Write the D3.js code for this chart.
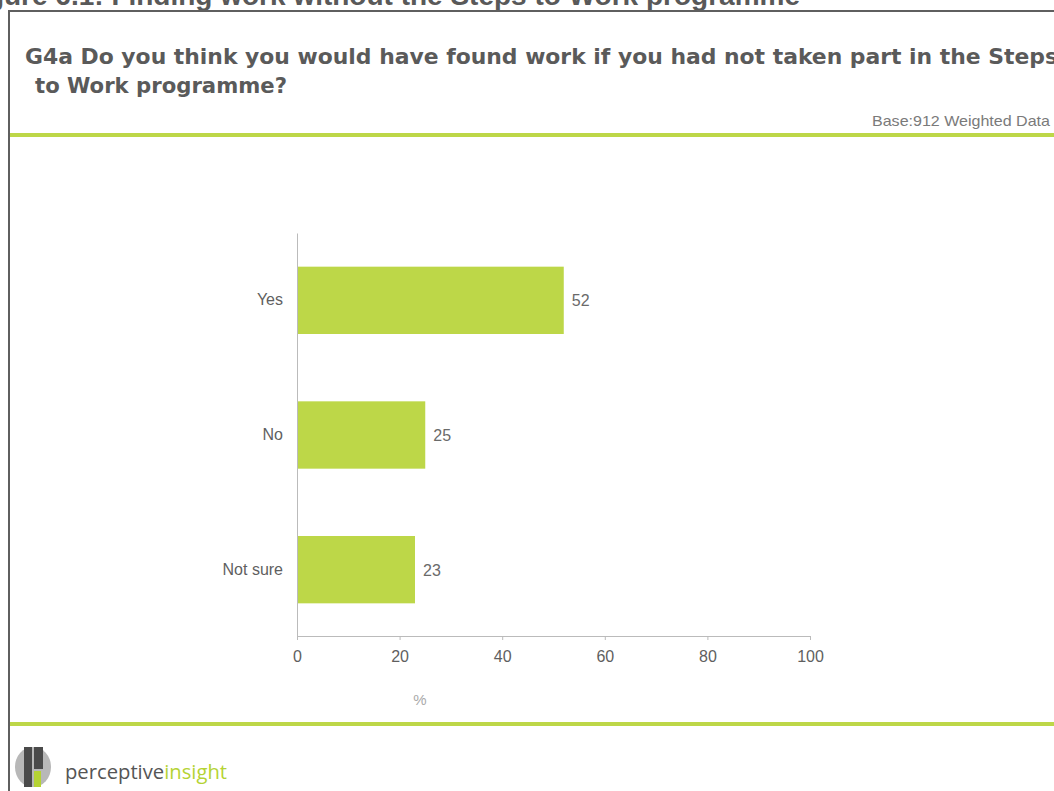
<!DOCTYPE html>
<html>
<head>
<meta charset="utf-8">
<script src="https://cdn.jsdelivr.net/npm/d3@7"></script>
<style>
  html, body { margin: 0; padding: 0; background: #fff; overflow: hidden; }
  svg { display: block; }
</style>
</head>
<body>
<script>
const categories = ["Yes", "No", "Not sure"];
const values = [52, 25, 23];
const xTicks = [0, 20, 40, 60, 80, 100];
const figureTitle = "Figure 6.1: Finding work without the Steps to Work programme";
const questionLines = ["G4a Do you think you would have found work if you had not taken part in the Steps", "to Work programme?"];
const baseText = "Base:912 Weighted Data";
const axisTitle = "%";

const W = 1054, H = 791;
const green = "#bdd748";
const svg = d3.select("body").append("svg").attr("width", W).attr("height", H);

// clipped figure heading
svg.append("text").attr("x", 800).attr("y", 5)
  .attr("text-anchor", "end")
  .attr("font-family", "Liberation Sans, Arial, sans-serif")
  .attr("font-weight", "bold").attr("font-size", 28)
  .attr("fill", "#595959").text(figureTitle);

// frame
svg.append("line").attr("x1", 9).attr("x2", W).attr("y1", 11).attr("y2", 11)
  .attr("stroke", "#5f5f5f").attr("stroke-width", 2);
svg.append("line").attr("x1", 9).attr("x2", 9).attr("y1", 10).attr("y2", H)
  .attr("stroke", "#5f5f5f").attr("stroke-width", 2);

// question
const qFont = "DejaVu Sans Condensed, DejaVu Sans, sans-serif";
svg.append("text").attr("x", 25).attr("y", 64)
  .attr("font-family", qFont).attr("font-stretch", "condensed")
  .attr("font-weight", "bold").attr("font-size", 22)
  .attr("textLength", 1033).attr("lengthAdjust", "spacingAndGlyphs")
  .attr("fill", "#5a5a5a").text(questionLines[0]);
svg.append("text").attr("x", 35).attr("y", 93)
  .attr("font-family", qFont).attr("font-stretch", "condensed")
  .attr("font-weight", "bold").attr("font-size", 22)
  .attr("textLength", 252).attr("lengthAdjust", "spacingAndGlyphs")
  .attr("fill", "#5a5a5a").text(questionLines[1]);

svg.append("text").attr("x", 1050).attr("y", 126).attr("text-anchor", "end")
  .attr("font-family", "Liberation Sans Narrow, Liberation Sans, Arial, sans-serif").attr("font-size", 15)
  .attr("textLength", 178).attr("lengthAdjust", "spacingAndGlyphs")
  .attr("fill", "#7a7a7a").text(baseText);

// green rules
svg.append("rect").attr("x", 10).attr("y", 133).attr("width", W - 10).attr("height", 4).attr("fill", green);
svg.append("rect").attr("x", 10).attr("y", 722).attr("width", W - 10).attr("height", 4).attr("fill", green);

// chart
const labelFont = "Liberation Sans, Arial, sans-serif";
const x = d3.scaleLinear().domain([0, 100]).range([297, 810]);
const y = d3.scaleBand().domain(categories).range([233, 637]).paddingInner(0.5).paddingOuter(0.25);
const data = categories.map((c, i) => ({ c, v: values[i] }));

svg.selectAll("rect.bar").data(data).enter().append("rect")
  .attr("class", "bar")
  .attr("x", x(0)).attr("y", d => y(d.c))
  .attr("width", d => x(d.v) - x(0)).attr("height", y.bandwidth())
  .attr("fill", green);

svg.selectAll("text.val").data(data).enter().append("text")
  .attr("class", "val")
  .attr("x", d => x(d.v) + 8).attr("y", d => y(d.c) + y.bandwidth() / 2 + 6)
  .attr("font-family", labelFont).attr("font-size", 16)
  .attr("fill", "#6a6a6a").text(d => d.v);

// y axis
const yAxis = svg.append("g").attr("transform", `translate(${x(0)},0)`)
  .call(d3.axisLeft(y).tickSize(0).tickPadding(14));
yAxis.select(".domain").attr("stroke", "#bbb").attr("stroke-width", 1);
yAxis.selectAll("text").attr("font-family", labelFont)
  .attr("font-size", 16).attr("fill", "#5f5f5f");

// x axis
const xAxis = svg.append("g").attr("transform", `translate(0,636)`)
  .call(d3.axisBottom(x).tickValues(xTicks).tickSize(4).tickSizeOuter(0).tickPadding(11));
xAxis.select(".domain").attr("stroke", "#bbb");
xAxis.selectAll(".tick line").attr("stroke", "#bbb");
xAxis.selectAll("text").attr("font-family", labelFont)
  .attr("font-size", 16).attr("fill", "#5f5f5f");

svg.append("text").attr("x", 420).attr("y", 705).attr("text-anchor", "middle")
  .attr("font-family", labelFont).attr("font-size", 15)
  .attr("fill", "#aaa").text(axisTitle);

// logo
const logo = svg.append("g").attr("transform", "translate(33,767)");
logo.append("ellipse").attr("rx", 18).attr("ry", 20).attr("fill", "#b8b8b8");
logo.append("rect").attr("x", -9).attr("y", -20).attr("width", 8).attr("height", 40).attr("fill", "#4a4a4a");
logo.append("rect").attr("x", 1).attr("y", -20).attr("width", 9).attr("height", 22).attr("fill", "#4a4a4a");
logo.append("rect").attr("x", 1).attr("y", 4).attr("width", 7).attr("height", 16).attr("fill", "#b5d334");
svg.append("text").attr("x", 65).attr("y", 779)
  .attr("font-family", "Open Sans, DejaVu Sans, sans-serif").attr("font-size", 20)
  .attr("textLength", 162).attr("lengthAdjust", "spacingAndGlyphs")
  .selectAll("tspan").data([["perceptive", "#555"], ["insight", "#b5d334"]]).enter()
  .append("tspan").attr("fill", d => d[1]).text(d => d[0]);
</script>
</body>
</html>
